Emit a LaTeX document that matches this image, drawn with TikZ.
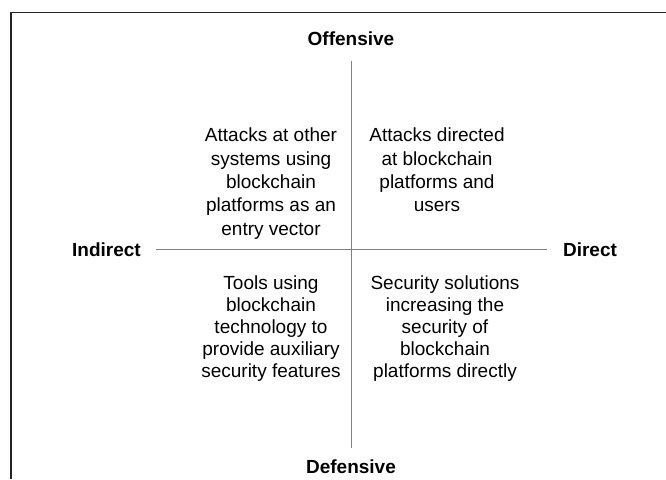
\documentclass[tikz,border=0pt]{standalone}
\usepackage{fontspec}
\setmainfont{Liberation Sans}
\begin{document}
\begin{tikzpicture}[x=1pt,y=-1pt,
  axislabel/.style={font=\fontsize{19}{23.3}\selectfont\bfseries, inner sep=0pt, anchor=center},
  quadtext/.style={font=\fontsize{19}{23.3}\selectfont, align=center, inner sep=0pt, anchor=north},
  quadtextlow/.style={font=\fontsize{19}{22}\selectfont, align=center, inner sep=0pt, anchor=north},
  axisline/.style={draw=black!50, line width=0.9pt},
  frameline/.style={draw=black!85, line width=1.4pt}]
\useasboundingbox (0,0) rectangle (666,479);
% frame (left and top only)
\coordinate (fbl) at (11,479);
\coordinate (ftl) at (11,12.5);
\coordinate (ftr) at (666,12.5);
\draw[frameline] (fbl) -- (ftl) -- (ftr);
% axes
\coordinate (vtop) at (351,61);
\coordinate (vbot) at (351,448);
\coordinate (hleft) at (156,249.5);
\coordinate (hright) at (547,249.5);
\draw[axisline] (vtop) -- (vbot);
\draw[axisline] (hleft) -- (hright);
% axis labels
\node[axislabel] (off) at (351,38.5) {Offensive};
\node[axislabel] (def) at (351,466.5) {Defensive};
\node[axislabel] (ind) at (106.5,250) {Indirect};
\node[axislabel] (dir) at (590,250) {Direct};
% quadrant texts
\node[quadtext] (ul) at (271,128) {Attacks at other\\systems using\\blockchain\\platforms as an\\entry vector};
\node[quadtext] (ur) at (437,128) {Attacks directed\\at blockchain\\platforms and\\users};
\node[quadtextlow] (ll) at (271,276) {Tools using\\blockchain\\technology to\\provide auxiliary\\security features};
\node[quadtextlow] (lr) at (445,276) {Security solutions\\increasing the\\security of\\blockchain\\platforms directly};
\end{tikzpicture}
\end{document}
